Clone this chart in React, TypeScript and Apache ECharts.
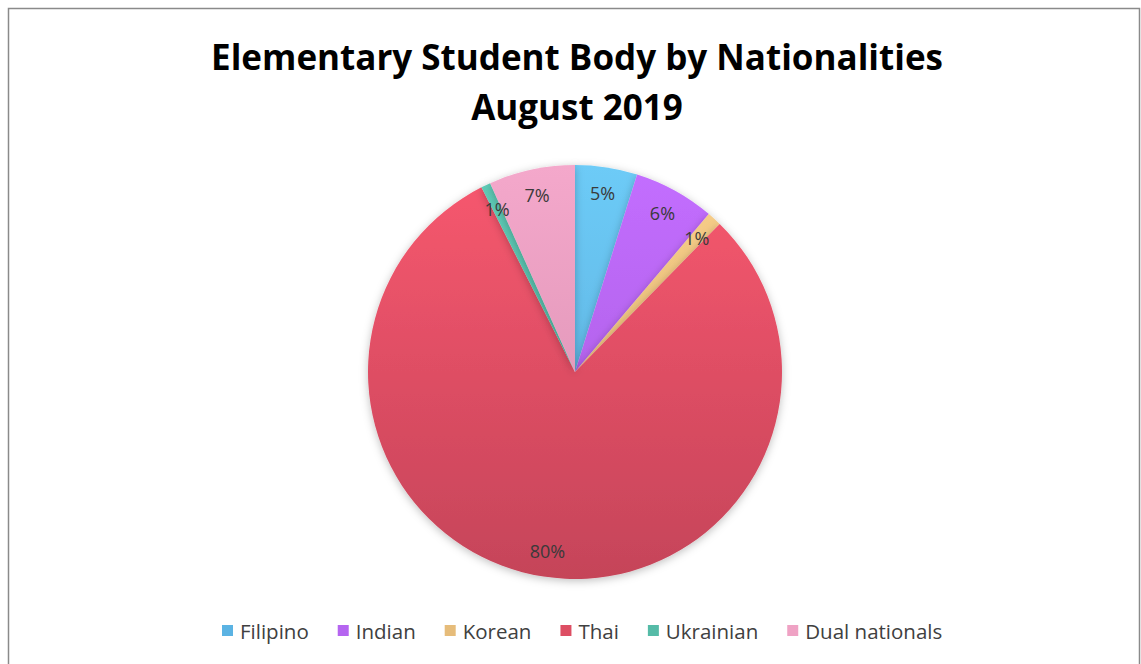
import React, { useEffect, useRef } from "react";
import * as echarts from "echarts";

const categories = ["Filipino", "Indian", "Korean", "Thai", "Ukrainian", "Dual nationals"];
const values = [13, 17, 3, 215, 2, 18];
const topColors = ["#6DCBF7", "#C36EFF", "#F9CF8A", "#F8586F", "#5FCDB8", "#F4A8CB"];
const bottomColors = ["#57A9D8", "#A659DB", "#D9AF6E", "#C54459", "#4BAA98", "#D68DAE"];
const legendColors = ["#5BB3E3", "#B565F0", "#E6BC7A", "#DD4E63", "#55BBA7", "#EFA2C4"];
const titleLines = ["Elementary Student Body by Nationalities", "August 2019"];

const CX = 575;
const CY = 372;
const R = 207;

export default function App() {
  const ref = useRef<HTMLDivElement>(null);
  useEffect(() => {
    document.body.style.margin = "0";
    const chart = echarts.init(ref.current!, null, { renderer: "svg" });
    const total = values.reduce((a, b) => a + b, 0);
    const grad = (i: number) =>
      new echarts.graphic.LinearGradient(
        0, CY - R, 0, CY + R,
        [
          { offset: 0, color: topColors[i] },
          { offset: 1, color: bottomColors[i] },
        ],
        true
      );
    chart.setOption({
      animation: false,
      backgroundColor: "#ffffff",
      title: {
        text: titleLines.join("\n"),
        left: 577,
        textAlign: "center",
        top: 31,
        padding: 0,
        textStyle: {
          fontFamily: "Open Sans",
          fontWeight: "bold",
          fontSize: 35,
          lineHeight: 50,
          color: "#000000",
        },
      },
      legend: {
        bottom: 23,
        left: 222,
        padding: 0,
        itemWidth: 11,
        itemHeight: 11,
        itemGap: 29,
        icon: "rect",
        textStyle: { fontFamily: "Open Sans", fontSize: 20.5, color: "#404040", padding: [0, 0, 0, 2] },
        data: categories.map((c, i) => ({ name: c, itemStyle: { color: legendColors[i] } })),
      },
      graphic: [
        {
          type: "rect",
          shape: { x: 8.5, y: 8.5, width: 1131, height: 700 },
          style: { fill: "none", stroke: "#8a8a8a", lineWidth: 1.5 },
          silent: true,
        },
      ],
      series: [
        {
          type: "pie",
          center: [CX, CY],
          radius: [0, R],
          startAngle: 90,
          clockwise: true,
          label: { show: false },
          labelLine: { show: false },
          emphasis: { disabled: true },
          itemStyle: {
            borderWidth: 0,
            shadowBlur: 8,
            shadowColor: "rgba(0,0,0,0.25)",
            shadowOffsetY: 2,
          },
          data: categories.map((c, i) => ({
            name: c,
            value: values[i],
            itemStyle: { color: grad(i) },
          })),
        },
        {
          type: "pie",
          center: [CX, CY],
          radius: [R * 0.72, R],
          startAngle: 90,
          clockwise: true,
          silent: true,
          legendHoverLink: false,
          itemStyle: { color: "rgba(0,0,0,0)", borderWidth: 0 },
          label: {
            show: true,
            position: "inside",
            fontFamily: "Open Sans",
            fontSize: 18,
            color: "#3a3a3a",
            formatter: (p: any) => Math.round((p.value / total) * 100) + "%",
          },
          labelLine: { show: false },
          data: categories.map((c, i) => ({ name: c + " ", value: values[i] })),
        },
      ],
    });
    return () => chart.dispose();
  }, []);
  return <div ref={ref} style={{ width: 1141, height: 664 }} />;
}
